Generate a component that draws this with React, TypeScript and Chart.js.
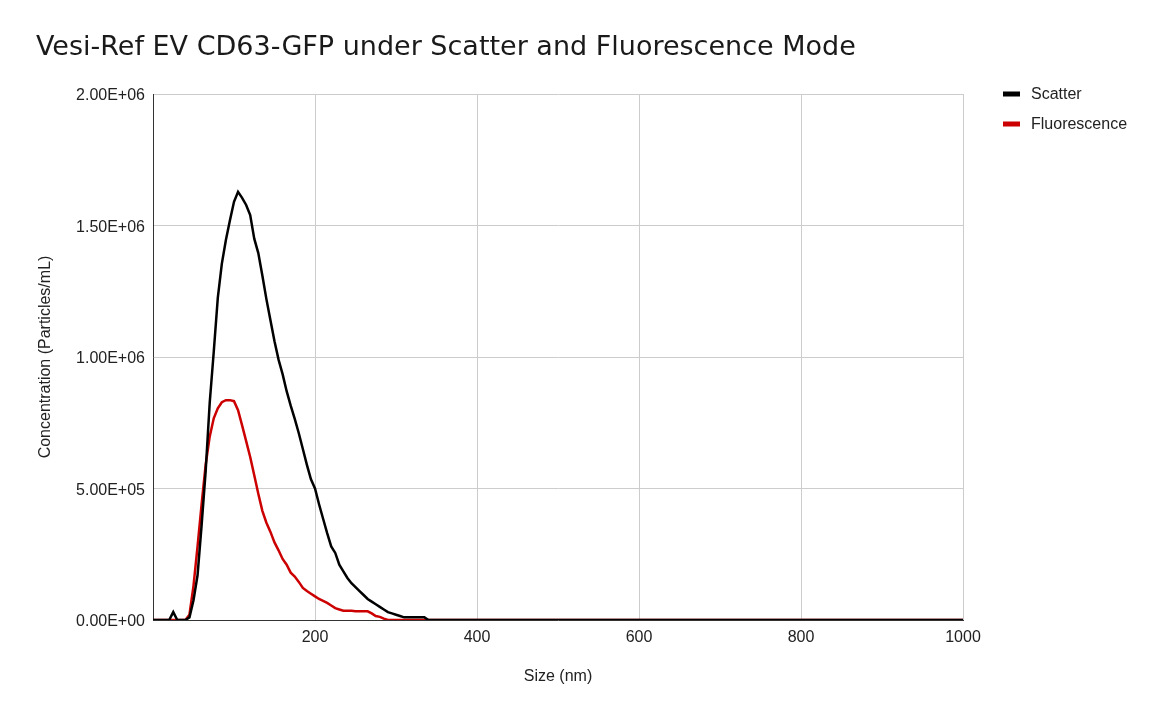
import React, { useEffect, useRef } from "react";
import { Chart, registerables } from "chart.js";

Chart.register(...registerables);

const TITLE = "Vesi-Ref EV CD63-GFP under Scatter and Fluorescence Mode";
const X_TITLE = "Size (nm)";
const Y_TITLE = "Concentration (Particles/mL)";

const sizes = [
  0, 5, 10, 15, 20, 25, 30, 35, 40, 45, 50, 55, 60, 65, 70, 75, 80, 85, 90, 95,
  100, 105, 110, 115, 120, 125, 130, 135, 140, 145, 150, 155, 160, 165, 170, 175,
  180, 185, 190, 195, 200, 205, 210, 215, 220, 225, 230, 235, 240, 245, 250, 255,
  260, 265, 270, 275, 280, 285, 290, 295, 300, 305, 310, 315, 320, 325, 330, 335,
  340, 345, 350, 1000,
];

// values in thousands of particles/mL
const scatterK = [
  0, 0, 0, 0, 0, 30, 0, 0, 0, 10, 75, 170, 360, 565, 825, 1020, 1225, 1355, 1445, 1520,
  1590, 1628, 1605, 1578, 1540, 1450, 1395, 1310, 1220, 1140, 1060, 990, 935, 870, 815, 765,
  710, 650, 590, 535, 500, 440, 385, 330, 280, 255, 210, 185, 160, 140, 125, 110,
  95, 80, 70, 60, 50, 40, 30, 25, 20, 15, 10, 10, 10, 10, 10, 10,
  0, 0, 0, 0,
];

const fluorescenceK = [
  0, 0, 0, 0, 0, 0, 0, 0, 0, 20, 130, 280, 440, 590, 697, 767, 805, 828, 836, 836,
  832, 798, 740, 680, 620, 550, 480, 415, 370, 335, 295, 265, 232, 210, 180, 165,
  145, 122, 110, 100, 90, 80, 73, 65, 55, 45, 40, 35, 35, 35, 33, 33,
  33, 33, 25, 15, 12, 5, 0, 0, 0, 0, 0, 0, 0, 0, 0, 0,
  0, 0, 0, 0,
];

const X_TICKS = [0, 200, 400, 600, 800, 1000];
const Y_TICKS = [0, 500000, 1000000, 1500000, 2000000];

const FONT = "'Liberation Sans', Arial, sans-serif";
const TITLE_FONT = "'DejaVu Sans', Verdana, sans-serif";

function sci(v: number): string {
  if (v === 0) return "0.00E+00";
  const e = Math.floor(Math.log10(Math.abs(v)));
  const m = v / Math.pow(10, e);
  const es = (e < 0 ? "-" : "+") + String(Math.abs(e)).padStart(2, "0");
  return m.toFixed(2) + "E" + es;
}

const seriesNames = ["Scatter", "Fluorescence"];
const seriesColors = ["#000000", "#cc0000"];

const overlayPlugin = {
  id: "overlay",
  afterDraw(chart: any) {
    const ctx = chart.ctx;
    ctx.save();
    ctx.fillStyle = "#1a1a1a";
    ctx.font = `27px ${TITLE_FONT}`;
    ctx.textBaseline = "middle";
    ctx.textAlign = "left";
    ctx.fillText(TITLE, 36, 48);
    ctx.font = `16px ${FONT}`;
    seriesNames.forEach((name, i) => {
      const y = 94 + i * 30;
      ctx.fillStyle = seriesColors[i];
      ctx.fillRect(1003, y - 2.5, 17, 5);
      ctx.fillStyle = "#222222";
      ctx.fillText(name, 1031, y + 1);
    });
    ctx.restore();
  },
};

export default function App() {
  const ref = useRef<HTMLCanvasElement | null>(null);
  useEffect(() => {
    if (!ref.current) return;
    const mk = (vals: number[]) => sizes.map((s, i) => ({ x: s, y: vals[i] * 1000 }));
    const chart = new Chart(ref.current, {
      type: "line",
      data: {
        datasets: [
          {
            label: seriesNames[0],
            data: mk(scatterK),
            borderColor: seriesColors[0],
            backgroundColor: seriesColors[0],
            borderWidth: 2.5,
            pointRadius: 0,
            tension: 0,
          },
          {
            label: seriesNames[1],
            data: mk(fluorescenceK),
            borderColor: seriesColors[1],
            backgroundColor: seriesColors[1],
            borderWidth: 2.5,
            pointRadius: 0,
            tension: 0,
          },
        ],
      },
      options: {
        animation: false,
        responsive: false,
        events: [],
        layout: { padding: { top: 94, right: 200, left: 0, bottom: 0 } },
        plugins: {
          legend: { display: false },
          title: { display: false },
          tooltip: { enabled: false },
        },
        scales: {
          x: {
            type: "linear",
            min: 0,
            max: 1000,
            afterFit: (s: any) => {
              s.height = 100;
            },
            afterBuildTicks: (s: any) => {
              s.ticks = X_TICKS.map((v) => ({ value: v }));
            },
            ticks: {
              padding: 8,
              color: "#222222",
              font: { family: FONT, size: 16 },
              maxRotation: 0,
              callback: (v: any) => (v === 0 ? "" : String(v)),
            },
            grid: { color: "#cccccc", lineWidth: 1, drawTicks: false },
            border: { color: "#333333", width: 1 },
            title: {
              display: true,
              text: X_TITLE,
              color: "#222222",
              font: { family: FONT, size: 16 },
              padding: { top: 0, bottom: 33.6 },
            },
          },
          y: {
            type: "linear",
            min: 0,
            max: 2000000,
            afterFit: (s: any) => {
              s.width = 153;
            },
            afterBuildTicks: (s: any) => {
              s.ticks = Y_TICKS.map((v) => ({ value: v }));
            },
            ticks: {
              padding: 8,
              labelOffset: 2,
              color: "#222222",
              font: { family: FONT, size: 16 },
              callback: (v: any) => sci(Number(v)),
            },
            grid: { color: "#cccccc", lineWidth: 1, drawTicks: false },
            border: { color: "#333333", width: 1 },
            title: {
              display: true,
              text: Y_TITLE,
              color: "#222222",
              font: { family: FONT, size: 16 },
              padding: { top: 36, bottom: 0 },
            },
          },
        },
      },
      plugins: [overlayPlugin],
    });
    return () => chart.destroy();
  }, []);
  return (
    <div style={{ position: "fixed", left: 0, top: 0, width: 1163, height: 720, background: "#ffffff" }}>
      <canvas ref={ref} width={1163} height={720} style={{ display: "block" }} />
    </div>
  );
}
